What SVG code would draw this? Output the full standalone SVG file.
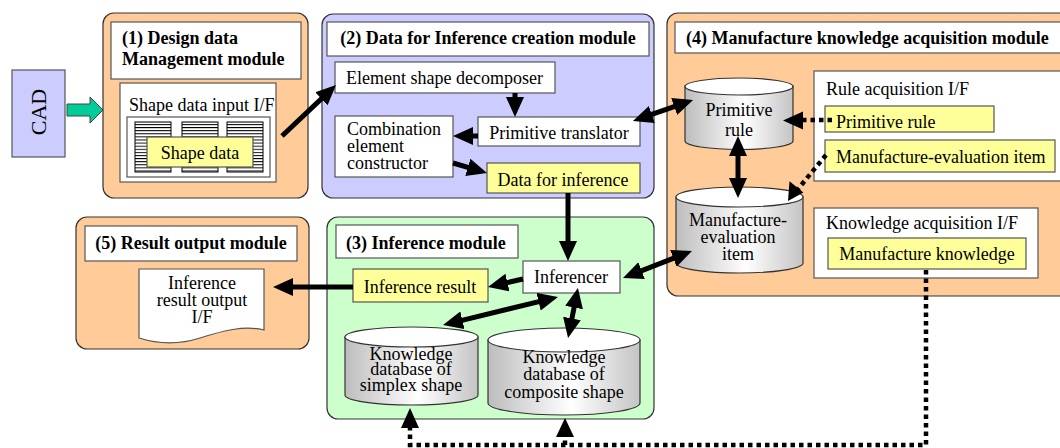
<svg xmlns="http://www.w3.org/2000/svg" width="1060" height="448" viewBox="0 0 1060 448">
  <style>
    text { font-family: "Liberation Serif", "Times New Roman", serif; font-size: 18px; fill: #000; }
    .title { font-weight: bold; }
    .mid { text-anchor: middle; }
    .mod { stroke: #333; stroke-width: 1.2; }
    .orange { fill: #ffcc99; }
    .lav { fill: #ccccff; }
    .green { fill: #ccffcc; }
    .box { fill: #fff; stroke: #555; stroke-width: 1.2; }
    .yel { fill: #ffff99; stroke: #555; stroke-width: 1.2; }
    .cyl { fill: url(#cylGrad); stroke: #333; stroke-width: 1.2; }
    .cyltop { fill: #fff; stroke: #333; stroke-width: 1.2; }
    .arr { stroke: #000; stroke-width: 5; fill: none; marker-end: url(#head); }
    .arr2 { stroke: #000; stroke-width: 5; fill: none; marker-start: url(#head); marker-end: url(#head); }
    .dot { stroke: #000; stroke-width: 4.5; stroke-dasharray: 4.5 4; fill: none; }
  </style>
  <defs>
    <linearGradient id="cylGrad" x1="0" y1="0" x2="1" y2="0">
      <stop offset="0" stop-color="#bdbdbd"/>
      <stop offset="0.55" stop-color="#ffffff"/>
      <stop offset="1" stop-color="#c4c4c4"/>
    </linearGradient>
    <marker id="head" markerUnits="userSpaceOnUse" markerWidth="22" markerHeight="20" refX="10" refY="9" orient="auto-start-reverse">
      <path d="M0,0 L20,9 L0,18 Z" fill="#000"/>
    </marker>
    <pattern id="stripes" patternUnits="userSpaceOnUse" width="40" height="3.1">
      <rect width="40" height="3.1" fill="#fff"/>
      <line x1="0" y1="0.5" x2="40" y2="0.5" stroke="#000" stroke-width="1"/>
    </pattern>
  </defs>

  <!-- CAD source -->
  <g id="cad">
    <rect x="12" y="70" width="53" height="87" fill="#ccccff" stroke="#555" stroke-width="1.2"/>
    <text transform="translate(46,112) rotate(-90)" class="mid" style="font-size:22px">CAD</text>
    <path d="M67,104 H90 V97 L103,110 L90,123 V116 H67 Z" fill="#00cc99" stroke="#444" stroke-width="1"/>
  </g>

  <!-- (1) Design data management module -->
  <g id="module1">
    <rect x="103" y="13" width="205" height="185" rx="11" class="mod orange"/>
    <rect x="111" y="22" width="190" height="57" class="box"/>
    <text x="122" y="44" class="title">(1) Design data</text>
    <text x="122" y="65" class="title">Management module</text>
    <rect x="120" y="83" width="156" height="99" class="box"/>
    <text x="129" y="111">Shape data input I/F</text>
    <rect x="127" y="117" width="143" height="60" class="box" stroke="#333"/>
    <rect x="135" y="122" width="36" height="50" fill="url(#stripes)" stroke="#000" stroke-width="1"/>
    <rect x="182" y="122" width="36" height="50" fill="url(#stripes)" stroke="#000" stroke-width="1"/>
    <rect x="227" y="122" width="36" height="50" fill="url(#stripes)" stroke="#000" stroke-width="1"/>
    <rect x="147" y="137" width="106" height="30" class="yel"/>
    <text x="200" y="159" class="mid">Shape data</text>
  </g>

  <!-- (2) Data for inference creation module -->
  <g id="module2">
    <rect x="322" y="14" width="332" height="184" rx="11" class="mod lav"/>
    <rect x="327" y="22" width="322" height="34" class="box"/>
    <text x="488" y="44" class="title mid">(2) Data for Inference creation module</text>
    <g id="decomposer">
      <rect x="335" y="62" width="220" height="31" class="box"/>
      <text x="346" y="84">Element shape decomposer</text>
    </g>
    <g id="translator">
      <rect x="478" y="117" width="162" height="29" class="box"/>
      <text x="559" y="139" class="mid">Primitive translator</text>
    </g>
    <g id="constructor">
      <rect x="335" y="116" width="118" height="61" class="box"/>
      <text x="347" y="135">Combination</text>
      <text x="347" y="152">element</text>
      <text x="347" y="169">constructor</text>
    </g>
    <g id="inference-data">
      <rect x="487" y="163" width="153" height="30" class="yel"/>
      <text x="563" y="186" class="mid">Data for inference</text>
    </g>
  </g>

  <!-- (4) Manufacture knowledge acquisition module -->
  <g id="module4">
    <rect x="667" y="13" width="410" height="283" rx="11" class="mod orange"/>
    <rect x="675" y="22" width="400" height="31" class="box"/>
    <text x="686" y="44" class="title">(4) Manufacture knowledge acquisition module</text>
    <g id="primitive-rule-db">
      <path d="M685,86 V141 A54,8.5 0 0 0 793,141 V86 Z" class="cyl"/>
      <ellipse cx="739" cy="86.5" rx="54" ry="8.5" class="cyltop"/>
      <text x="739" y="116" class="mid">Primitive</text>
      <text x="739" y="136" class="mid">rule</text>
    </g>
    <g id="evaluation-db">
      <path d="M676,197 V263 A63.5,10 0 0 0 803,263 V197 Z" class="cyl"/>
      <ellipse cx="739.5" cy="197" rx="63.5" ry="10" class="cyltop"/>
      <text x="738" y="226" class="mid">Manufacture-</text>
      <text x="738" y="243" class="mid">evaluation</text>
      <text x="738" y="260" class="mid">item</text>
    </g>
    <g id="rule-if">
      <rect x="814" y="71" width="260" height="110" class="box"/>
      <text x="826" y="95">Rule acquisition I/F</text>
      <rect x="825" y="106" width="169" height="26" class="yel"/>
      <text x="836" y="128">Primitive rule</text>
      <rect x="825" y="140" width="230" height="32" class="yel"/>
      <text x="836" y="163">Manufacture-evaluation item</text>
    </g>
    <g id="knowledge-if">
      <rect x="814" y="208" width="224" height="70" class="box"/>
      <text x="826" y="229">Knowledge acquisition I/F</text>
      <rect x="828" y="238" width="198" height="31" class="yel"/>
      <text x="927" y="260" class="mid">Manufacture knowledge</text>
    </g>
  </g>

  <!-- (5) Result output module -->
  <g id="module5">
    <rect x="76" y="217" width="233" height="132" rx="11" class="mod orange"/>
    <rect x="85" y="226" width="212" height="35" class="box"/>
    <text x="191" y="249" class="title mid">(5) Result output module</text>
    <path d="M139,269 H264 V330 C244,325 222,331 200,338 C178,345 158,344 139,338 Z" class="box"/>
    <text x="202" y="289" class="mid">Inference</text>
    <text x="202" y="306" class="mid">result output</text>
    <text x="202" y="323" class="mid">I/F</text>
  </g>

  <!-- (3) Inference module -->
  <g id="module3">
    <rect x="327" y="217" width="327" height="202" rx="11" class="mod green"/>
    <rect x="336" y="225" width="182" height="33" class="box"/>
    <text x="346" y="249" class="title">(3) Inference module</text>
    <g id="inferencer">
      <rect x="523" y="261" width="97" height="32" class="box"/>
      <text x="571" y="283" class="mid">Inferencer</text>
    </g>
    <g id="inference-result">
      <rect x="353" y="269" width="135" height="33" class="yel"/>
      <text x="420" y="293" class="mid">Inference result</text>
    </g>
    <g id="simplex-db">
      <path d="M345,337 V395 A66.5,10 0 0 0 478,395 V337 Z" class="cyl"/>
      <ellipse cx="411.5" cy="337" rx="66.5" ry="10" class="cyltop"/>
      <text x="411" y="360" class="mid">Knowledge</text>
      <text x="411" y="375" class="mid">database of</text>
      <text x="411" y="391" class="mid">simplex shape</text>
    </g>
    <g id="composite-db">
      <path d="M488,340 V403 A76,12 0 0 0 640,403 V340 Z" class="cyl"/>
      <ellipse cx="564" cy="340" rx="76" ry="12" class="cyltop"/>
      <text x="564" y="363" class="mid">Knowledge</text>
      <text x="564" y="380" class="mid">database of</text>
      <text x="564" y="398" class="mid">composite shape</text>
    </g>
  </g>

  <!-- connectors -->
  <g id="connectors">
    <line x1="282" y1="136" x2="328.7" y2="91.9" class="arr"/>
    <line x1="515" y1="93" x2="515" y2="107" class="arr"/>
    <line x1="478" y1="136" x2="463" y2="136" class="arr"/>
    <line x1="453" y1="163" x2="477.4" y2="170.2" class="arr"/>
    <line x1="568" y1="193" x2="568" y2="251" class="arr"/>
    <line x1="523" y1="279" x2="497.7" y2="284.8" class="arr"/>
    <line x1="353" y1="287" x2="283" y2="287" class="arr"/>
    <line x1="642.4" y1="117.7" x2="683.6" y2="103.3" class="arr2"/>
    <line x1="738" y1="146" x2="738" y2="188" class="arr2"/>
    <line x1="632.3" y1="274.4" x2="682.7" y2="254.6" class="arr2"/>
    <line x1="548.3" y1="299.4" x2="452.7" y2="322.6" class="arr2"/>
    <line x1="576" y1="297.8" x2="570" y2="328.2" class="arr2"/>
    <!-- dotted acquisition links -->
    <line x1="832" y1="120" x2="795" y2="120" class="dot"/>
    <path d="M783,120.5 L803,111.5 L803,129.5 Z" fill="#000"/>
    <line x1="826" y1="155" x2="798" y2="189" class="dot"/>
    <path d="M788,201 L789.5,181.2 L803.4,192.6 Z" fill="#000"/>
    <polyline points="926,270 926,445 410,445 410,422" class="dot"/>
    <path d="M410,408 L401,428 L419,428 Z" fill="#000"/>
    <line x1="565" y1="445" x2="565" y2="436" class="dot"/>
    <path d="M565,418 L556,437 L574,437 Z" fill="#000"/>
  </g>
</svg>
